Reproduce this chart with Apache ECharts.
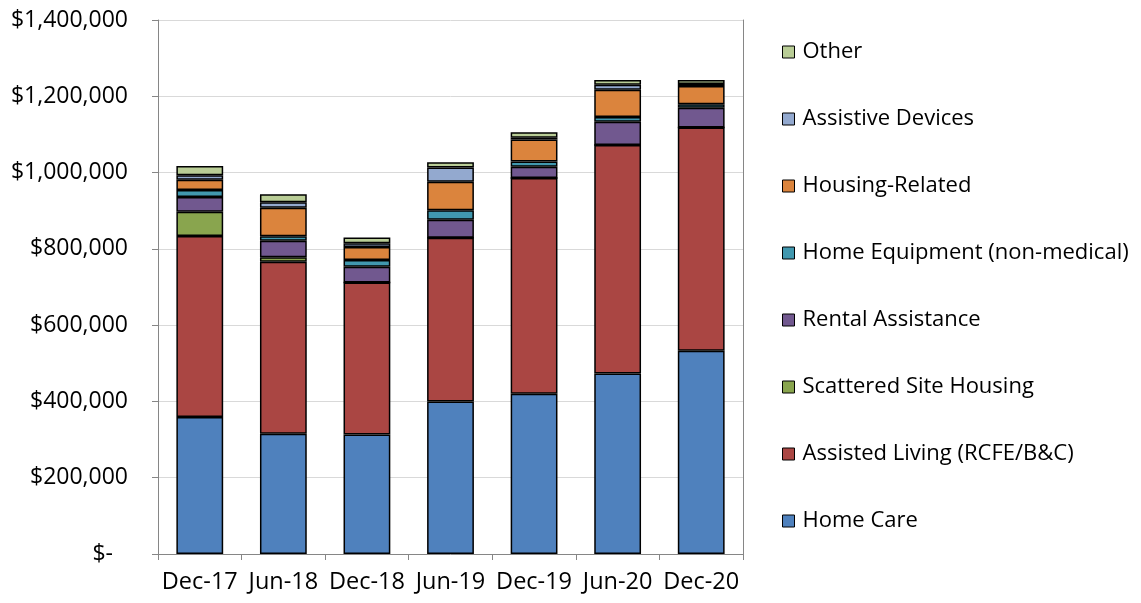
<!DOCTYPE html>
<html>
<head>
<meta charset="utf-8">
<script src="https://cdn.jsdelivr.net/npm/echarts@6/dist/echarts.min.js"></script>
<style>
html,body{margin:0;padding:0;background:#fff;}
#chart{width:1141px;height:603px;}
</style>
</head>
<body>
<div id="chart"></div>
<script>
var categories = ['Dec-17','Jun-18','Dec-18','Jun-19','Dec-19','Jun-20','Dec-20'];
var homeCare        = [359000, 315000, 313000, 400000, 420000, 473000, 533000];
var assistedLiving  = [475000, 451000, 399000, 429000, 566000, 599000, 585000];
var scatteredSite   = [63000, 12000, 0, 0, 0, 0, 0];
var rentalAssist    = [39000, 43000, 41000, 47000, 29000, 61000, 52000];
var homeEquipment   = [18000, 12000, 18000, 25000, 14000, 13000, 9000];
var housingRelated  = [27000, 75000, 34000, 75000, 58000, 71000, 48000];
var assistiveDev    = [12000, 14000, 10000, 37000, 4000, 13000, 5000];
var other           = [24000, 21000, 15000, 14000, 15000, 13000, 11000];
var yTicks = [0, 200000, 400000, 600000, 800000, 1000000, 1200000, 1400000];

var seriesDefs = [
  ['Home Care', homeCare, '#4F81BD'],
  ['Assisted Living (RCFE/B&C)', assistedLiving, '#AA4643'],
  ['Scattered Site Housing', scatteredSite, '#89A54E'],
  ['Rental Assistance', rentalAssist, '#71588F'],
  ['Home Equipment (non-medical)', homeEquipment, '#4198AF'],
  ['Housing-Related', housingRelated, '#DB843D'],
  ['Assistive Devices', assistiveDev, '#93A9CF'],
  ['Other', other, '#B9CD96']
];

var FONT = 'Open Sans';
var chart = echarts.init(document.getElementById('chart'), null, {renderer:'canvas'});

function fmt(v){
  if (v === 0) return '{z|$-}';
  return '$' + v.toString().replace(/\B(?=(\d{3})+(?!\d))/g, ',');
}

var option = {
  animation: false,
  textStyle: {fontFamily: FONT},
  grid: {left: 158, right: 398, top: 20, bottom: 49},
  legend: {
    orient: 'vertical',
    left: 777,
    top: 36,
    itemWidth: 12,
    itemHeight: 12,
    itemGap: 45,
    icon: 'rect',
    data: seriesDefs.map(function(s){return s[0];}).reverse(),
    itemStyle: {borderColor: '#000', borderWidth: 1},
    textStyle: {fontFamily: FONT, fontSize: 22, color: '#000', lineHeight: 22, padding: [0,0,0,3]}
  },
  xAxis: {
    type: 'category',
    data: categories,
    axisLine: {lineStyle: {color: '#868686', width: 1}},
    axisTick: {show: true, length: 6, lineStyle: {color: '#868686'}},
    axisLabel: {fontFamily: FONT, fontSize: 23.5, color: '#000', margin: 16, interval: 0}
  },
  yAxis: [{
    type: 'value',
    min: 0, max: 1400000, interval: 200000,
    axisLine: {show: true, lineStyle: {color: '#868686', width: 1}},
    axisTick: {show: true, length: 6, lineStyle: {color: '#868686'}},
    splitLine: {show: true, lineStyle: {color: '#D9D9D9', width: 1}},
    axisLabel: {
      fontFamily: FONT, fontSize: 23, color: '#000', margin: 30,
      formatter: fmt,
      rich: {z: {fontFamily: FONT, fontSize: 23, color: '#000', padding: [0, 15, 0, 0]}}
    }
  },{
    type: 'value', position: 'right',
    min: 0, max: 1400000, interval: 200000,
    axisLine: {show: true, lineStyle: {color: '#868686', width: 1}},
    axisTick: {show: false}, axisLabel: {show: false}, splitLine: {show: false}
  }],
  series: seriesDefs.map(function(s){
    return {
      name: s[0], type: 'bar', stack: 'total', data: s[1],
      barWidth: '56%',
      itemStyle: {color: s[2], borderColor: '#000', borderWidth: 1.5}
    };
  })
};
chart.setOption(option);
</script>
</body>
</html>
